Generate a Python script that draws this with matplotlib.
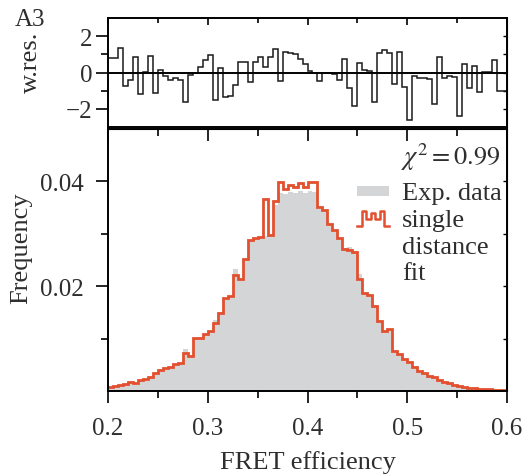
import matplotlib
matplotlib.use('Agg')
import matplotlib.pyplot as plt
import numpy as np
from matplotlib.ticker import MultipleLocator, FixedLocator
from matplotlib.legend_handler import HandlerBase
from matplotlib.lines import Line2D
from matplotlib.patches import Patch, Rectangle

plt.rcParams['font.family'] = ['Liberation Serif', 'DejaVu Serif']
plt.rcParams['mathtext.fontset'] = 'stix'

# histogram bins: 80 bins of width 0.005 starting at E = 0.2
bin_start = 0.2
bin_width = 0.005

# fitted histogram (single distance fit), red steps
fit = [0.0007, 0.0009, 0.0012, 0.0014, 0.0017, 0.0016, 0.0021, 0.0022, 0.0027, 0.0034,
       0.0040, 0.0043, 0.0046, 0.0051, 0.0053, 0.0073, 0.0067, 0.0101, 0.0102, 0.0108,
       0.0114, 0.0130, 0.0149, 0.0178, 0.0182, 0.0222, 0.0213, 0.0251, 0.0289, 0.0292,
       0.0294, 0.0366, 0.0297, 0.0362, 0.0398, 0.0385, 0.0394, 0.0390, 0.0397, 0.0389,
       0.0398, 0.0398, 0.0352, 0.0346, 0.0318, 0.0308, 0.0292, 0.0271, 0.0269, 0.0266,
       0.0213, 0.0187, 0.0184, 0.0162, 0.0133, 0.0114, 0.0118, 0.0076, 0.0071, 0.0062,
       0.0055, 0.0046, 0.0039, 0.0034, 0.0029, 0.0026, 0.0021, 0.0018, 0.0015, 0.0012,
       0.0010, 0.0008, 0.0006, 0.0005, 0.0004, 0.0003, 0.0003, 0.0002, 0.0002, 0.0001]

# experimental histogram, grey bars
exp_data = [0.0006, 0.0008, 0.0011, 0.0013, 0.0016, 0.0015, 0.0020, 0.0021, 0.0026, 0.0033,
            0.0039, 0.0042, 0.0045, 0.0050, 0.0052, 0.0080, 0.0066, 0.0100, 0.0101, 0.0107,
            0.0113, 0.0136, 0.0150, 0.0177, 0.0181, 0.0233, 0.0212, 0.0250, 0.0286, 0.0290,
            0.0293, 0.0296, 0.0297, 0.0355, 0.0378, 0.0376, 0.0380, 0.0378, 0.0382, 0.0378,
            0.0381, 0.0380, 0.0348, 0.0344, 0.0315, 0.0305, 0.0290, 0.0272, 0.0275, 0.0266,
            0.0224, 0.0186, 0.0183, 0.0161, 0.0132, 0.0113, 0.0117, 0.0075, 0.0070, 0.0061,
            0.0054, 0.0045, 0.0038, 0.0033, 0.0028, 0.0025, 0.0020, 0.0017, 0.0014, 0.0011,
            0.0009, 0.0007, 0.0005, 0.0004, 0.0003, 0.0002, 0.0002, 0.0001, 0.0001, 0.0001]

# weighted residuals
wres = [0.8, 0.8, 1.35, -0.75, -0.4, 0.85, -1.2, 0.05, 0.9, -1.15,
        0.15, -0.2, -0.4, -0.3, -0.4, -1.6, -0.15, 0.0, 0.3, 0.7,
        0.95, -1.5, 0.25, -1.35, -1.3, -0.7, 0.6, 0.6, -0.55, 0.6,
        0.85, 0.3, 0.85, 1.3, -0.45, 1.15, 1.05, 1.0, 0.75, 0.45,
        0.1, -0.05, -0.45, -0.05, 0.0, -0.1, -0.4, 0.75, -0.85, -1.85,
        0.55, 0.15, 0.1, -1.65, 1.05, 1.25, 1.05, -0.65, 1.15, -0.8,
        -2.6, -0.2, -0.3, -0.3, -0.35, -1.75, 0.85, -0.3, -0.2, -0.25,
        -2.4, 0.45, -0.85, 0.35, -1.1, 0.05, 0.05, 0.7, -1.0, -1.0]

chi2 = 0.99

edges = bin_start + bin_width * np.arange(len(fit) + 1)

txt_col = '#2e2e2e'
red = '#e2502f'
grey = '#d4d5d7'


class StepIcon(HandlerBase):
    # little step line used as legend glyph for the fit
    def create_artists(self, legend, orig_handle, xdescent, ydescent,
                       width, height, fontsize, trans):
        lv = np.array([0.0, 1.0, 0.5, 0.85, 0.5, 1.0, 0.0, 0.0])
        xs = -xdescent + np.linspace(0, width, len(lv))
        ys = -ydescent + lv * height * 0.8
        ln = Line2D(xs, ys, drawstyle='steps-post', color=red, lw=1.8)
        ln.set_transform(trans)
        return [ln]


class SmallRect(HandlerBase):
    def create_artists(self, legend, orig_handle, xdescent, ydescent,
                       width, height, fontsize, trans):
        r = Rectangle((-xdescent, -ydescent + 0.2 * height), width, 0.5 * height,
                      facecolor=grey, edgecolor='none')
        r.set_transform(trans)
        return [r]


fig = plt.figure(figsize=(5.28, 4.77), dpi=100)
L, W = 108 / 528, 399 / 528
ax_res = fig.add_axes([L, (477 - 128) / 477, W, 109 / 477])
ax = fig.add_axes([L, (477 - 392) / 477, W, 262 / 477])

# ---- main histogram panel
ax.stairs(exp_data, edges, fill=True, color=grey, lw=0)
ax.stairs(fit, edges, baseline=None, color=red, lw=2.0)
ax.set_xlim(0.2, 0.6)
ax.set_ylim(0, 0.05)
ax.set_xticks([0.2, 0.3, 0.4, 0.5, 0.6])
ax.xaxis.set_minor_locator(MultipleLocator(0.05))
ax.set_yticks([0.02, 0.04])
ax.yaxis.set_minor_locator(FixedLocator([0.01, 0.03]))
ax.tick_params(which='both', direction='out', top=False, right=False,
               labelsize=18, labelcolor=txt_col, width=1.2)
ax.tick_params(axis='x', pad=10)
ax.tick_params(axis='y', pad=9)
ax.tick_params(which='major', length=8.5)
ax.tick_params(which='minor', length=5)
for s in ax.spines.values():
    s.set_linewidth(1.4)

sx = ax.secondary_xaxis('top')
sx.set_xticks([0.2, 0.3, 0.4, 0.5, 0.6])
sx.xaxis.set_minor_locator(MultipleLocator(0.05))
sx.tick_params(which='both', direction='in', labeltop=False, width=1.2)
sx.tick_params(which='major', length=8.5)
sx.tick_params(which='minor', length=5)
sy = ax.secondary_yaxis('right')
sy.set_yticks([0.01, 0.02, 0.03, 0.04])
sy.tick_params(direction='in', labelright=False, length=3, width=1.0)

ax.set_xlabel('FRET efficiency', fontsize=19, color=txt_col, labelpad=8)
ax.set_ylabel('Frequency', fontsize=19, color=txt_col)
ax.yaxis.set_label_coords(-0.19, 0.55)

ax.text(0.985, 0.897, r'$\chi^2 = %.2f$' % chi2, transform=ax.transAxes,
        ha='right', va='center', fontsize=19, color=txt_col)

handles = [Patch(color=grey), Line2D([], []), Line2D([], [], linestyle='none'),
           Line2D([], [], linestyle='none')]
labels = ['Exp. data', 'single', 'distance', 'fit']
leg = ax.legend(handles, labels, loc='upper right', bbox_to_anchor=(1.0, 0.822),
                frameon=False, fontsize=19,
                handlelength=1.2, handletextpad=0.5, labelspacing=0.12,
                borderaxespad=0.0, borderpad=0.2,
                handler_map={Patch: SmallRect(), Line2D: StepIcon()})
for t in leg.get_texts():
    t.set_color(txt_col)
# only the 'single' row gets the step glyph
for h in leg.legend_handles[2:]:
    h.set_visible(False)

# ---- residual panel
ax_res.stairs(wres, edges, baseline=None, color='#1a1a1a', lw=1.1)
ax_res.axhline(0, color='black', lw=1.4)
ax_res.set_xlim(0.2, 0.6)
ax_res.set_ylim(-3, 3)
ax_res.set_yticks([-2, 0, 2])
ax_res.yaxis.set_minor_locator(FixedLocator([-1, 1]))
ax_res.set_xticks([0.2, 0.3, 0.4, 0.5, 0.6])
ax_res.xaxis.set_minor_locator(MultipleLocator(0.05))
ax_res.tick_params(axis='x', which='both', direction='in', bottom=False, top=True,
                   labelbottom=False, width=1.2)
ax_res.tick_params(axis='x', which='major', length=5)
ax_res.tick_params(axis='x', which='minor', length=3.5)
ax_res.tick_params(axis='y', which='both', direction='out', right=False,
                   labelsize=18, labelcolor=txt_col, width=1.2, pad=3)
ax_res.tick_params(axis='y', which='major', length=8.5)
ax_res.tick_params(axis='y', which='minor', length=5)
for s in ax_res.spines.values():
    s.set_linewidth(1.4)
sr = ax_res.secondary_yaxis('right')
sr.set_yticks([-2, -1, 0, 1, 2])
sr.tick_params(direction='in', labelright=False, length=3, width=1.0)

ax_res.set_ylabel('w.res.', fontsize=19, color=txt_col)
ax_res.yaxis.set_label_coords(-0.165, 0.6)

fig.text(30 / 528, 1 - 20 / 477, 'A3', fontsize=18, color=txt_col,
         ha='center', va='center')

fig.savefig('out.png', dpi=100)
